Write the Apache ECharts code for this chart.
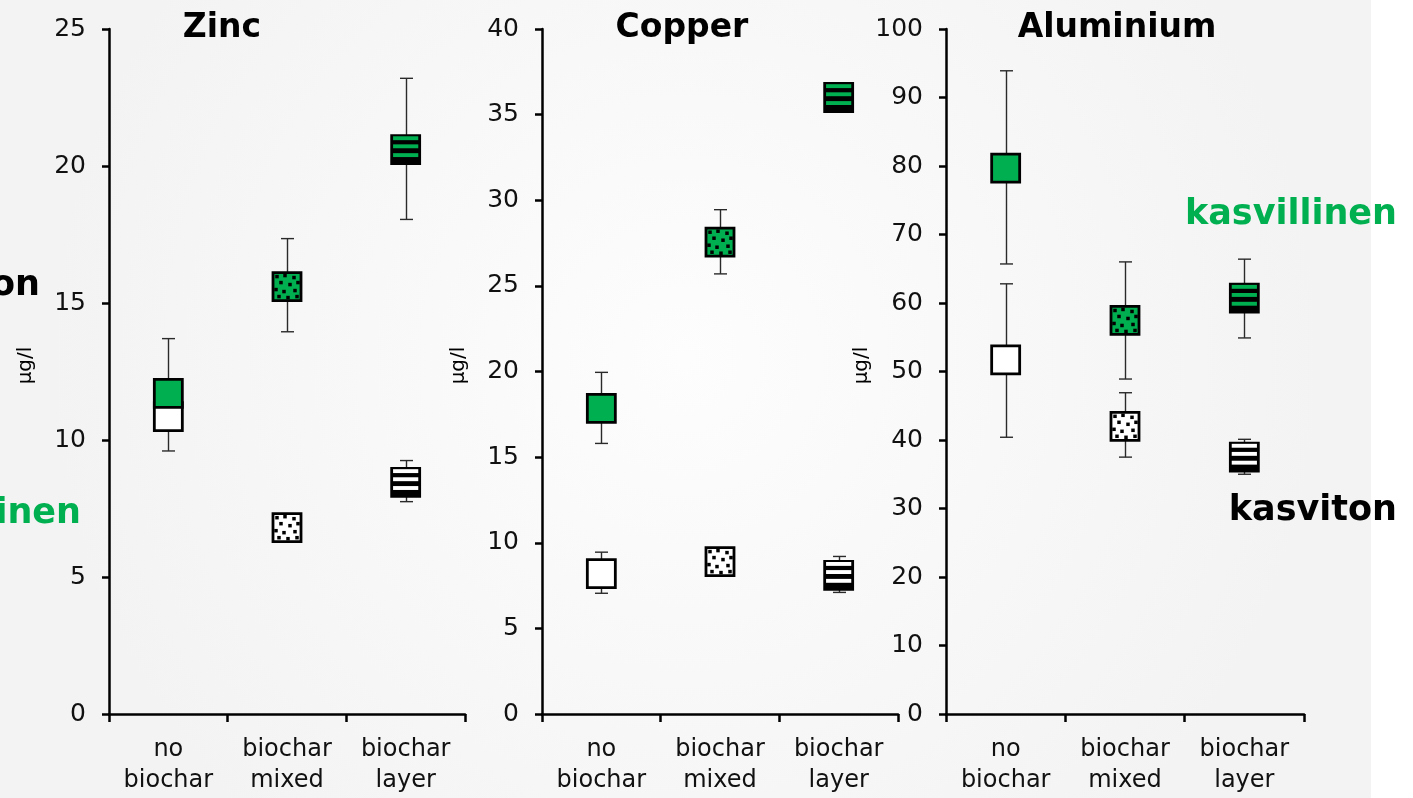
<!DOCTYPE html>
<html>
<head>
<meta charset="utf-8">
<script src="https://cdn.jsdelivr.net/npm/echarts@6/dist/echarts.min.js"></script>
<style>
html,body{margin:0;padding:0;background:#ffffff;}
#chart{width:1413px;height:798px;}
</style>
</head>
<body>
<div id="chart"></div>
<script>
// ---- data ----
const categories = ['no\nbiochar', 'biochar\nmixed', 'biochar\nlayer'];
const panelTitles = ['Zinc', 'Copper', 'Aluminium'];
const unitLabel = 'µg/l';
const legendVeg = 'kasvillinen';
const legendBare = 'kasviton';

// Zinc
const zincVeg = [11.7, 15.6, 20.6];
const zincVegLow = [9.6, 13.95, 18.05];
const zincVegHigh = [13.7, 17.35, 23.2];
const zincBare = [10.85, 6.8, 8.45];
const zincBareLow = [null, null, 7.75];
const zincBareHigh = [null, null, 9.25];
const zincTicks = [0, 5, 10, 15, 20, 25];

// Copper
const copperVeg = [17.85, 27.55, 36.0];
const copperVegLow = [15.8, 25.7, null];
const copperVegHigh = [19.95, 29.45, null];
const copperBare = [8.2, 8.9, 8.1];
const copperBareLow = [7.05, null, 7.1];
const copperBareHigh = [9.45, null, 9.2];
const copperTicks = [0, 5, 10, 15, 20, 25, 30, 35, 40];

// Aluminium
const aluVeg = [79.7, 57.45, 60.7];
const aluVegLow = [65.7, 48.9, 54.9];
const aluVegHigh = [93.9, 66.0, 66.4];
const aluBare = [51.7, 42.0, 37.5];
const aluBareLow = [40.4, 37.5, 35.0];
const aluBareHigh = [62.8, 46.9, 40.1];
const aluTicks = [0, 10, 20, 30, 40, 50, 60, 70, 80, 90, 100];

// ---- styling ----
const GREEN = '#00b050';
const FONT = '"DejaVu Sans", "Liberation Sans", Arial, sans-serif';
const gridBoxes = [
  {left: 109, width: 356},
  {left: 542, width: 356},
  {left: 946, width: 358}
];
const TOP = 29, HEIGHT = 685;

const panels = [
  {veg: zincVeg, vegLow: zincVegLow, vegHigh: zincVegHigh, bare: zincBare, bareLow: zincBareLow, bareHigh: zincBareHigh, ticks: zincTicks},
  {veg: copperVeg, vegLow: copperVegLow, vegHigh: copperVegHigh, bare: copperBare, bareLow: copperBareLow, bareHigh: copperBareHigh, ticks: copperTicks},
  {veg: aluVeg, vegLow: aluVegLow, vegHigh: aluVegHigh, bare: aluBare, bareLow: aluBareLow, bareHigh: aluBareHigh, ticks: aluTicks}
];

// pattern per category: 0 plain, 1 dotted, 2 striped
const dotOffsets = [[-10,-10],[-2,-11],[7,-9],[11,-4],[-6,-4],[3,-2],[-11,3],[-3,5],[8,4],[-8,10],[1,11],[10,10]];
const stripeOffsets = [-13.3, -5.2, 3.6];

function markerRender(fill) {
  return function (params, api) {
    const idx = api.value(0);
    const pt = api.coord([idx, api.value(1)]);
    const kind = idx;
    const children = [{
      type: 'rect',
      shape: {x: pt[0] - 14, y: pt[1] - 14, width: 28, height: 28},
      style: {fill: kind === 2 ? '#000' : fill, stroke: '#000', lineWidth: 2.8}
    }];
    if (kind === 1) {
      dotOffsets.forEach(function (d) {
        children.push({type: 'rect', shape: {x: pt[0] + d[0] - 1.75, y: pt[1] + d[1] - 1.75, width: 3.5, height: 3.5}, style: {fill: '#000'}});
      });
    } else if (kind === 2) {
      stripeOffsets.forEach(function (o) {
        children.push({type: 'rect', shape: {x: pt[0] - 12.6, y: pt[1] + o, width: 25.2, height: 3.9}, style: {fill: fill}});
      });
    }
    return {type: 'group', children: children};
  };
}

function whiskerRender(params, api) {
  const idx = api.value(0);
  const hi = api.coord([idx, api.value(2)]);
  const lo = api.coord([idx, api.value(1)]);
  const x = Math.round(hi[0]) + 0.5;
  const st = {stroke: '#2a2a2a', lineWidth: 1.4};
  return {type: 'group', children: [
    {type: 'line', shape: {x1: x, y1: hi[1], x2: x, y2: lo[1]}, style: st},
    {type: 'line', shape: {x1: x - 6.5, y1: hi[1], x2: x + 6.5, y2: hi[1]}, style: st},
    {type: 'line', shape: {x1: x - 6.5, y1: lo[1], x2: x + 6.5, y2: lo[1]}, style: st}
  ]};
}

const grid = [], xAxis = [], yAxis = [], series = [];
panels.forEach(function (p, i) {
  grid.push({left: gridBoxes[i].left, width: gridBoxes[i].width, top: TOP, height: HEIGHT, containLabel: false});
  xAxis.push({
    type: 'category', gridIndex: i, data: categories, boundaryGap: true,
    axisLine: {lineStyle: {color: '#000', width: 2.5}},
    axisTick: {show: true, length: 8, lineStyle: {color: '#000', width: 2.5}},
    axisLabel: {color: '#111', fontFamily: FONT, fontSize: 24, lineHeight: 31, margin: 20, interval: 0},
    splitLine: {show: false}
  });
  const t = p.ticks;
  yAxis.push({
    type: 'value', gridIndex: i, min: t[0], max: t[t.length - 1], interval: t[1] - t[0],
    name: unitLabel, nameLocation: 'middle', nameRotate: 90, nameGap: 73,
    nameTextStyle: {color: '#000', fontFamily: FONT, fontSize: 20, padding: [0, 0, 0, 12]},
    axisLine: {show: true, lineStyle: {color: '#000', width: 2.5}},
    axisTick: {show: true, length: 7, lineStyle: {color: '#000', width: 2.5}},
    axisLabel: {color: '#111', fontFamily: FONT, fontSize: 25, margin: 23},
    splitLine: {show: false}
  });
  const wData = [];
  [[p.bareLow, p.bareHigh], [p.vegLow, p.vegHigh]].forEach(function (pair) {
    pair[0].forEach(function (lo, k) {
      if (lo !== null && pair[1][k] !== null) wData.push([k, lo, pair[1][k]]);
    });
  });
  series.push({
    type: 'custom', xAxisIndex: i, yAxisIndex: i, z: 2, silent: true,
    renderItem: whiskerRender, encode: {x: 0, y: [1, 2]}, data: wData
  });
  series.push({
    type: 'custom', name: legendBare, xAxisIndex: i, yAxisIndex: i, z: 3, silent: true,
    renderItem: markerRender('#ffffff'), encode: {x: 0, y: 1},
    data: p.bare.map(function (v, k) { return [k, v]; })
  });
  series.push({
    type: 'custom', name: legendVeg, xAxisIndex: i, yAxisIndex: i, z: 4, silent: true,
    renderItem: markerRender(GREEN), encode: {x: 0, y: 1},
    data: p.veg.map(function (v, k) { return [k, v]; })
  });
});

const titleCenters = [222, 682, 1117];
const graphic = [{
  type: 'rect', z: -100, silent: true,
  shape: {x: 0, y: 0, width: 1371, height: 798},
  style: {fill: new echarts.graphic.RadialGradient(0.5, 0.45, 0.8, [
    {offset: 0, color: '#fdfdfd'}, {offset: 1, color: '#f3f3f3'}
  ])}
}];
panelTitles.forEach(function (tt, i) {
  graphic.push({type: 'text', x: titleCenters[i], y: 28, z: 10, silent: true,
    style: {text: tt, fill: '#000', font: 'bold 33px ' + FONT, align: 'center', verticalAlign: 'middle'}});
});
graphic.push({type: 'text', x: 1397, y: 215, z: 10, silent: true,
  style: {text: legendVeg, fill: GREEN, font: 'bold 35px ' + FONT, align: 'right', verticalAlign: 'middle'}});
graphic.push({type: 'text', x: 1397, y: 511, z: 10, silent: true,
  style: {text: legendBare, fill: '#000', font: 'bold 35px ' + FONT, align: 'right', verticalAlign: 'middle'}});
graphic.push({type: 'text', x: 40, y: 286, z: 10, silent: true,
  style: {text: legendBare, fill: '#000', font: 'bold 35px ' + FONT, align: 'right', verticalAlign: 'middle'}});
graphic.push({type: 'text', x: 81, y: 514, z: 10, silent: true,
  style: {text: legendVeg, fill: GREEN, font: 'bold 35px ' + FONT, align: 'right', verticalAlign: 'middle'}});

const chart = echarts.init(document.getElementById('chart'), null, {renderer: 'canvas'});
chart.setOption({
  animation: false,
  backgroundColor: '#ffffff',
  grid: grid, xAxis: xAxis, yAxis: yAxis, series: series, graphic: graphic
});
</script>
</body>
</html>
